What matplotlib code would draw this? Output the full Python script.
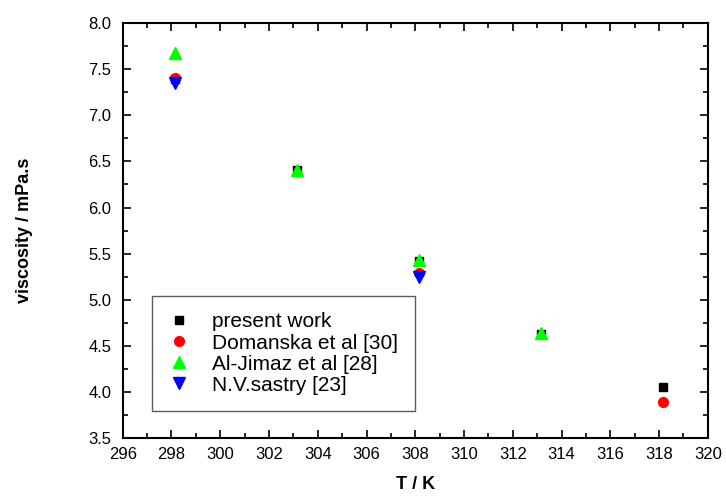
import matplotlib
matplotlib.use("Agg")
import matplotlib.pyplot as plt
from matplotlib.ticker import MultipleLocator

plt.rcParams['font.family'] = ['Liberation Sans', 'DejaVu Sans']

T_present = [298.15, 303.15, 308.15, 313.15, 318.15]
v_present = [7.39, 6.41, 5.42, 4.63, 4.06]

T_doma = [298.15, 308.15, 318.15]
v_doma = [7.40, 5.29, 3.89]

T_jimaz = [298.15, 303.15, 308.15, 313.15]
v_jimaz = [7.67, 6.41, 5.43, 4.64]

T_sastry = [298.15, 308.15]
v_sastry = [7.35, 5.245]

labels = ["present work", "Domanska et al [30]", "Al-Jimaz et al [28]", "N.V.sastry [23]"]

fig = plt.figure(figsize=(7.26, 4.97), dpi=100)
ax = fig.add_axes([0.169, 0.118, 0.806, 0.836])

ax.plot(T_present, v_present, 's', color='black', ms=6, ls='none', label=labels[0])
ax.plot(T_doma, v_doma, 'o', color='#ff0000', ms=7, ls='none', label=labels[1])
ax.plot(T_jimaz, v_jimaz, '^', color='#00ff00', ms=8, ls='none', label=labels[2])
ax.plot(T_sastry, v_sastry, 'v', color='#0000ff', ms=8, ls='none', label=labels[3])

ax.set_xlim(296, 320)
ax.set_ylim(3.5, 8.0)
ax.xaxis.set_major_locator(MultipleLocator(2))
ax.xaxis.set_minor_locator(MultipleLocator(1))
ax.yaxis.set_major_locator(MultipleLocator(0.5))
ax.yaxis.set_minor_locator(MultipleLocator(0.25))
ax.yaxis.set_major_formatter(matplotlib.ticker.FormatStrFormatter('%.1f'))

ax.tick_params(which='both', direction='in', top=True, right=True, labelsize=12, colors='black', width=1.2)
ax.tick_params(which='major', length=6)
ax.tick_params(which='minor', length=3.5)
ax.tick_params(axis='x', which='major', pad=6)
ax.tick_params(axis='y', which='major', pad=8)
for s in ax.spines.values():
    s.set_linewidth(1.5)

ax.set_xlabel("T / K", fontsize=13, fontweight='bold', labelpad=10)
ax.set_ylabel("viscosity / mPa.s", fontsize=13, fontweight='bold', labelpad=40)

leg = ax.legend(loc='lower left', bbox_to_anchor=(0.05, 0.065), fontsize=15, frameon=True,
                fancybox=False, edgecolor='#333333', handlelength=1.0, handletextpad=1.1,
                borderpad=0.8, labelspacing=0.1, borderaxespad=0)
leg.get_frame().set_linewidth(1.0)

fig.savefig("out.png", dpi=100)
